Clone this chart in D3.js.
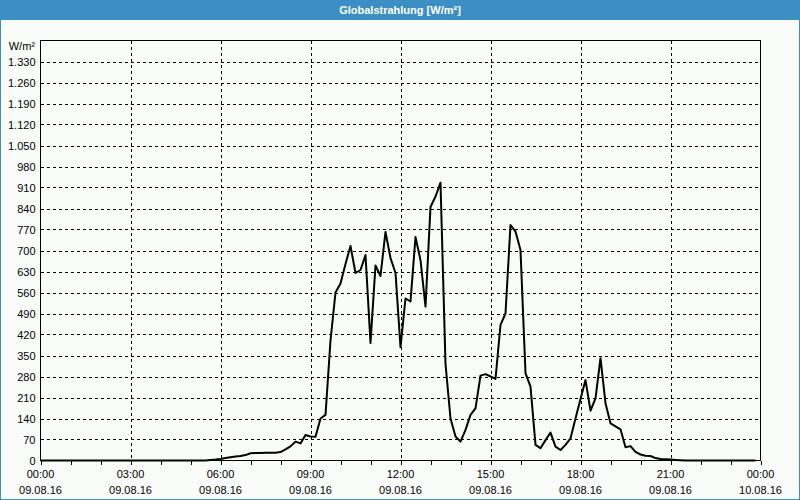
<!DOCTYPE html>
<html>
<head>
<meta charset="utf-8">
<script src="https://cdn.jsdelivr.net/npm/d3@7/dist/d3.min.js"></script>
<style>
html,body{margin:0;padding:0;background:#fff;}
svg{display:block;}
text{font-family:"Liberation Sans",Arial,sans-serif;}
</style>
</head>
<body>
<script>
// ---- data ----
const chartTitle = "Globalstrahlung [W/m²]";
const unitLabel = "W/m²";
const startTime = "2016-08-09T00:00:00";
const stepMinutes = 10;
const values = [
  0,0,0,0,0,0,0,0,0,0, 0,0,0,0,0,0,0,0,0,0, 0,0,0,0,0,0,0,0,0,0, 0,0,0,0,
  2,3,5,8,11,13,15,18,24,25, 25,26,26,26,28,37,47,63,57,85,
  80,79,140,152,400,560,590,655,715,625, 635,685,392,650,615,762,675,625,378,540,
  530,745,668,513,845,880,926,322,140,80, 63,102,152,174,283,288,280,272,452,490,
  785,763,702,291,246,52,41,68,93,46, 35,52,74,140,205,268,166,207,341,191,
  124,114,104,44,48,29,20,16,15,8, 5,4,3,2,1,0,0,0,0,0,
  0,0,0,0,0,0,0,0,0,0
];
const yTicks = [0,70,140,210,280,350,420,490,560,630,700,770,840,910,980,1050,1120,1190,1260,1330];
const xTickTimes = ["00:00","03:00","06:00","09:00","12:00","15:00","18:00","21:00","00:00"];
const xTickDates = ["09.08.16","09.08.16","09.08.16","09.08.16","09.08.16","09.08.16","09.08.16","09.08.16","10.08.16"];
const xTickHours = [0,3,6,9,12,15,18,21,24];

// ---- layout ----
const W = 800, H = 500;
const m = {left:40.5, right:760.5, top:40.5, bottom:460.5};
const svg = d3.select("body").append("svg").attr("width",W).attr("height",H);

svg.append("rect").attr("x",0).attr("y",0).attr("width",W).attr("height",H).attr("fill","#f9fcf9");
svg.append("rect").attr("x",0.5).attr("y",0.5).attr("width",W-1).attr("height",H-1)
  .attr("fill","none").attr("stroke","#3c8fc5");
svg.append("rect").attr("x",0).attr("y",0).attr("width",W).attr("height",20).attr("fill","#3c8fc5");
svg.append("text").attr("x",W/2).attr("y",14).attr("text-anchor","middle")
  .attr("fill","#fff").attr("font-weight","bold").attr("font-size","11px").text(chartTitle);

const t0 = new Date(startTime);
const parseData = values.map((v,i)=>({t:new Date(t0.getTime()+i*stepMinutes*60000), v}));
const x = d3.scaleTime().domain([t0, new Date(t0.getTime()+24*3600000)]).range([m.left,m.right]);
const y = d3.scaleLinear().domain([0,1400]).range([m.bottom,m.top]);

const loc = d3.formatLocale({decimal:",", thousands:".", grouping:[3], currency:["","€"]});
const fmt = loc.format(",d");

// grid
const grid = svg.append("g").attr("stroke","#000").attr("stroke-width",1).attr("stroke-dasharray","3,3").attr("shape-rendering","crispEdges");
yTicks.filter(d=>d>0).forEach(d=>{
  grid.append("line").attr("x1",m.left).attr("x2",m.right).attr("y1",Math.round(y(d))+0.5).attr("y2",Math.round(y(d))+0.5);
});
xTickHours.filter(h=>h>0&&h<24).forEach(h=>{
  const xx = Math.round(x(new Date(t0.getTime()+h*3600000)))+0.5;
  grid.append("line").attr("x1",xx).attr("x2",xx).attr("y1",m.top).attr("y2",m.bottom);
});

// y axis labels
const yAxis = d3.axisLeft(y).tickValues(yTicks).tickSize(0).tickPadding(5).tickFormat(fmt);
const gy = svg.append("g").attr("transform",`translate(${m.left},0)`).call(yAxis);
gy.select(".domain").remove();
gy.selectAll("text").attr("font-size","11px").attr("fill","#000").attr("font-family","Liberation Sans, Arial, sans-serif");
svg.append("text").attr("x",35).attr("y",50).attr("text-anchor","end").attr("font-size","11px").attr("fill","#000").text(unitLabel);

// x axis: hourly small ticks
const hourTicks = d3.range(0,25).map(h=>new Date(t0.getTime()+h*3600000));
const xAxis = d3.axisBottom(x).tickValues(hourTicks).tickSize(4).tickFormat("");
const gx = svg.append("g").attr("transform",`translate(0,${m.bottom})`).call(xAxis);
gx.select(".domain").remove();
gx.selectAll("line").attr("stroke","#000").attr("shape-rendering","crispEdges");

xTickHours.forEach((h,i)=>{
  const xx = x(new Date(t0.getTime()+h*3600000));
  svg.append("text").attr("x",xx).attr("y",478).attr("text-anchor","middle").attr("font-size","11px").attr("fill","#000").text(xTickTimes[i]);
  svg.append("text").attr("x",xx).attr("y",494).attr("text-anchor","middle").attr("font-size","11px").attr("fill","#000").text(xTickDates[i]);
});

// frame
svg.append("rect").attr("x",m.left).attr("y",m.top).attr("width",m.right-m.left).attr("height",m.bottom-m.top)
  .attr("fill","none").attr("stroke","#000").attr("stroke-width",1).attr("shape-rendering","crispEdges");

// line
const line = d3.line().x(d=>x(d.t)).y(d=>y(d.v));
svg.append("path").datum(parseData).attr("d",line).attr("fill","none").attr("stroke","#000").attr("stroke-width",2).attr("stroke-linejoin","round");
</script>
</body>
</html>
